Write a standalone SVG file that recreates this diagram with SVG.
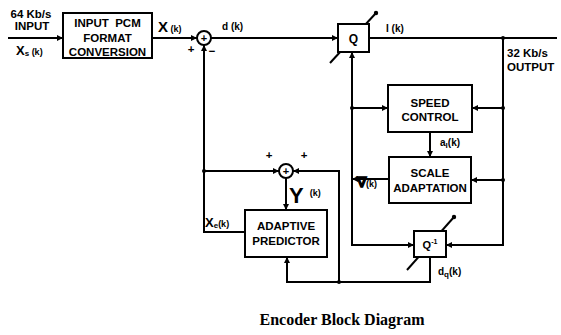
<svg xmlns="http://www.w3.org/2000/svg" width="561" height="335" viewBox="0 0 561 335">
<style>
.ln{fill:none;stroke:#000;stroke-width:2}
.bx{fill:#fff;stroke:#000;stroke-width:2}
.t{font-family:"Liberation Sans",Arial,sans-serif;font-weight:bold;font-size:11.5px;fill:#000}
.c{text-anchor:middle}
.s{font-size:8px}
.cap{font-family:"Liberation Serif","Times New Roman",serif;font-weight:bold;font-size:16px;fill:#000}
</style>
<defs>
<marker id="a" viewBox="0 0 10 10" refX="10" refY="5" markerWidth="7" markerHeight="6" markerUnits="userSpaceOnUse" orient="auto">
<path d="M0,0 L10,5 L0,10 z" fill="#000"/>
</marker>
</defs>
<rect width="561" height="335" fill="#fff"/>
<g id="connectors">
<path class="ln" d="M8,38 H63" marker-end="url(#a)"/>
<path class="ln" d="M152,38 H197" marker-end="url(#a)"/>
<path class="ln" d="M211,38 H338" marker-end="url(#a)"/>
<path class="ln" d="M369,38 H557"/>
<path class="ln" d="M503,38 V245 H446" marker-end="url(#a)"/>
<path class="ln" d="M503,108 H472" marker-end="url(#a)"/>
<path class="ln" d="M503,180 H471" marker-end="url(#a)"/>
<path class="ln" d="M389,179 H352"/>
<path class="ln" d="M360,179 H352" marker-end="url(#a)"/>
<path class="ln" d="M352,179 V52" marker-end="url(#a)"/>
<path class="ln" d="M352,179 V245 H414" marker-end="url(#a)"/>
<path class="ln" d="M352,108 H388" marker-end="url(#a)"/>
<path class="ln" d="M430,132 V157" marker-end="url(#a)"/>
<path class="ln" d="M430,257 V282 H287 V257" marker-end="url(#a)"/>
<path class="ln" d="M339,282 V171 H293" marker-end="url(#a)"/>
<path class="ln" d="M245,232 H204 V45" marker-end="url(#a)"/>
<path class="ln" d="M204,171 H279" marker-end="url(#a)"/>
<path class="ln" d="M286,178 V210" marker-end="url(#a)"/>
<circle cx="503" cy="38" r="2" fill="#000"/>
<circle cx="503" cy="108" r="2" fill="#000"/>
<circle cx="503" cy="180" r="2" fill="#000"/>
<circle cx="352" cy="108" r="2" fill="#000"/>
<circle cx="204" cy="171" r="2" fill="#000"/>
<circle cx="339" cy="282" r="2" fill="#000"/>
</g>
<g id="input-label">
<text class="t c" x="31" y="18">64 Kb/s</text>
<text class="t c" x="32" y="30">INPUT</text>
<text class="t" x="16" y="55" style="font-size:13px">X<tspan font-size="8" dy="1">s</tspan><tspan font-size="9" dy="-1"> (k)</tspan></text>
</g>
<g id="input-pcm">
<rect class="bx" x="63" y="13" width="89" height="45"/>
<text class="t c" x="107.5" y="27" xml:space="preserve">INPUT  PCM</text>
<text class="t c" x="107.5" y="42">FORMAT</text>
<text class="t c" x="107.5" y="56">CONVERSION</text>
<text class="t" x="158" y="32" style="font-size:15px">X<tspan font-size="9"> (k)</tspan></text>
</g>
<g id="sum1">
<circle class="bx" cx="204" cy="38" r="7"/>
<text class="t c" x="204" y="42" style="font-size:11px">+</text>
<text class="t c" x="191" y="53">+</text>
<text class="t c" x="212" y="55">−</text>
<text class="t" x="222" y="30" style="font-size:10px">d (k)</text>
</g>
<g id="quantizer">
<line class="ln" x1="330" y1="63" x2="376" y2="13"/>
<circle cx="376" cy="13" r="2.2" fill="#000"/>
<rect class="bx" x="338" y="24" width="31" height="28"/>
<text class="t c" x="353.5" y="43" style="font-size:12px">Q</text>
<text class="t" x="386" y="32" style="font-size:10px">I (k)</text>
</g>
<g id="output-label">
<text class="t" x="507" y="57">32 Kb/s</text>
<text class="t" x="507" y="71">OUTPUT</text>
</g>
<g id="speed-control">
<rect class="bx" x="388" y="85" width="84" height="47"/>
<text class="t c" x="430" y="107">SPEED</text>
<text class="t c" x="430" y="121">CONTROL</text>
<text class="t" x="440" y="146" style="font-size:10px">a<tspan font-size="8" dy="2">l</tspan><tspan dy="-2">(k)</tspan></text>
</g>
<g id="scale-adaptation">
<rect class="bx" x="389" y="157" width="82" height="46"/>
<text class="t c" x="430" y="177">SCALE</text>
<text class="t c" x="430" y="192">ADAPTATION</text>
<text class="t" x="357" y="187" style="font-size:14px" stroke="#000" stroke-width="1">∇<tspan font-size="9" stroke="none">(k)</tspan></text>
</g>
<g id="inverse-quantizer">
<line class="ln" x1="407" y1="270" x2="454" y2="217"/>
<circle cx="454" cy="217" r="2.2" fill="#000"/>
<rect class="bx" x="414" y="231" width="32" height="26"/>
<text class="t c" x="430" y="249" style="font-size:11px">Q<tspan font-size="7" dy="-5">-1</tspan></text>
<text class="t" x="438" y="275" style="font-size:10px">d<tspan font-size="8" dy="2">q</tspan><tspan dy="-2">(k)</tspan></text>
</g>
<g id="sum2">
<circle class="bx" cx="286" cy="171" r="7"/>
<text class="t c" x="286" y="175" style="font-size:11px">+</text>
<text class="t c" x="269" y="159">+</text>
<text class="t c" x="304" y="159">+</text>
<text class="t" x="289" y="203" style="font-size:22px">Y<tspan font-size="9" dx="6" dy="-7">(k)</tspan></text>
</g>
<g id="adaptive-predictor">
<rect class="bx" x="245" y="210" width="82" height="47"/>
<text class="t c" x="286" y="230">ADAPTIVE</text>
<text class="t c" x="286" y="245">PREDICTOR</text>
<text class="t" x="205" y="227" style="font-size:13px">X<tspan font-size="8" dy="1">e</tspan><tspan font-size="9" dy="-1">(k)</tspan></text>
</g>
<text class="cap c" x="342" y="325">Encoder Block Diagram</text>
</svg>
